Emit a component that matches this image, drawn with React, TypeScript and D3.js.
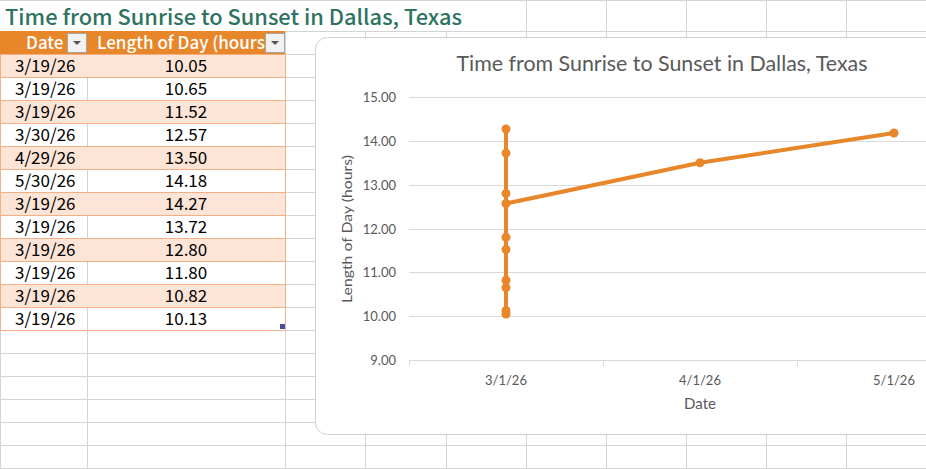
import React from 'react';
import * as d3 from 'd3';

// table data, as typed in the sheet
const dates = ['3/19/26', '3/19/26', '3/19/26', '3/30/26', '4/29/26', '5/30/26', '3/19/26', '3/19/26', '3/19/26', '3/19/26', '3/19/26', '3/19/26'];
const hours = [10.05, 10.65, 11.52, 12.57, 13.5, 14.18, 14.27, 13.72, 12.8, 11.8, 10.82, 10.13];
const monthTicks = ['3/1/26', '4/1/26', '5/1/26'];
const yTicks = [9, 10, 11, 12, 13, 14, 15];

const sheetTitle = 'Time from Sunrise to Sunset in Dallas, Texas';
const chartTitle = 'Time from Sunrise to Sunset in Dallas, Texas';

const W = 926, H = 469;
const ORANGE = '#E8862A';
const BAND = '#FCE4D6';
const GRID = '#d4d4d4';
const TXT = '#595959';

const colX = [0, 87, 285, 365, 446, 526, 606, 686, 766, 846, 926];
const rowH = 23;

const parse = d3.timeParse('%m/%d/%y');
const fmt = d3.timeFormat('%-m/%-d/%y');

const App = () => {
  const rowsY = d3.range(31, H + 1, rowH); // 31, 54, 77 ...

  // chart box
  const cx0 = 315, cy0 = 37, cy1 = 434;

  const x = d3.scaleBand().domain(monthTicks).range([409, 991]).padding(0);
  const y = d3.scaleLinear().domain([9, 15]).range([360, 97]);

  // excel date axis: points sorted by date, put in their month bucket
  const pts = d3.sort(
    dates.map((d, i) => ({ date: parse(d), v: hours[i] })),
    p => p.date
  ).map(p => ({ ...p, m: fmt(d3.timeMonth.floor(p.date)) }));

  const line = d3.line().x(p => x(p.m) + x.bandwidth() / 2).y(p => y(p.v));

  const chartFont = 'Lato, "Open Sans", sans-serif';
  const cellFont = '"Noto Sans CJK SC", "Noto Sans", sans-serif';

  return (
    <svg width={W} height={H} style={{ position: 'absolute', left: 0, top: 0, background: '#fff' }}>
      <defs>
        <clipPath id="hdr2"><rect x={87} y={31} width={178} height={23} /></clipPath>
      </defs>
      <rect width={W} height={H} fill="#fff" />

      {/* sheet gridlines */}
      <g stroke={GRID} strokeWidth={1}>
        <line x1={0} x2={W} y1={0.5} y2={0.5} />
        {rowsY.map(r => <line key={'r' + r} x1={0} x2={W} y1={r + 0.5} y2={r + 0.5} />)}
        {colX.map(c => (
          <line key={'c' + c} x1={c + 0.5} x2={c + 0.5} y1={c >= 526 ? 0 : 31} y2={H} />
        ))}
      </g>

      {/* sheet title */}
      <text x={5} y={25} fill="#2E7361" fontFamily={cellFont} fontWeight={500} fontSize={21}
        textLength={457} lengthAdjust="spacingAndGlyphs">{sheetTitle}</text>

      {/* table */}
      <rect x={0} y={31} width={285} height={23} fill={ORANGE} />
      <text x={26} y={49} fill="#fff" fontFamily={cellFont} fontWeight={500} fontSize={17}>Date</text>
      <text x={97} y={49} fill="#fff" fontFamily={cellFont} fontWeight={500} fontSize={17} clipPath="url(#hdr2)">Length of Day (hours)</text>
      {[67, 265].map(bx => (
        <g key={bx}>
          <rect x={bx + 0.5} y={33.5} width={19} height={19} fill="#f2f2f2" stroke="#a6a6a6" />
          <path d={`M${bx + 6},${41} L${bx + 14},${41} L${bx + 10},${45} Z`} fill="#555" />
        </g>
      ))}
      {hours.map((v, i) => {
        const top = 54 + i * rowH;
        return (
          <g key={i}>
            <rect x={0} y={top} width={285} height={rowH} fill={i % 2 === 0 ? BAND : '#fff'} />
            {i % 2 === 1 && <line x1={87.5} x2={87.5} y1={top} y2={top + rowH} stroke={GRID} />}
            <text x={15} y={top + 18} fontFamily={cellFont} fontSize={17} fill="#000">{dates[i]}</text>
            <text x={186} y={top + 18} fontFamily={cellFont} fontSize={17} fill="#000" textAnchor="middle">{v.toFixed(2)}</text>
          </g>
        );
      })}
      <g stroke="#F4B084" strokeWidth={1}>
        {d3.range(0, hours.length + 1).map(i => (
          <line key={i} x1={0} x2={285} y1={54 + i * rowH + 0.5} y2={54 + i * rowH + 0.5} />
        ))}
        <line x1={0.5} x2={0.5} y1={54} y2={330} />
        <line x1={285.5} x2={285.5} y1={54} y2={330} />
      </g>
      <rect x={280} y={324} width={5} height={5} fill="#3F4FA8" />

      {/* chart */}
      <rect x={cx0 + 0.5} y={cy0 + 0.5} width={700} height={cy1 - cy0} rx={12} fill="#fff" stroke="#d0d0d0" />
      <text x={662} y={71} textAnchor="middle" fill={TXT} fontFamily={chartFont} fontSize={21}
        textLength={411} lengthAdjust="spacingAndGlyphs">{chartTitle}</text>

      <g stroke="#d9d9d9" strokeWidth={1}>
        {yTicks.map(t => <line key={t} x1={409} x2={W} y1={Math.round(y(t)) + 0.5} y2={Math.round(y(t)) + 0.5} />)}
        {d3.range(0, monthTicks.length + 1).map(i => {
          const tx = Math.round(409 + i * x.bandwidth()) + 0.5;
          return <line key={i} x1={tx} x2={tx} y1={360} y2={366} />;
        })}
      </g>
      {yTicks.map(t => (
        <text key={t} x={396} y={y(t) + 5} textAnchor="end" fill={TXT} fontFamily={chartFont} fontSize={13}>{t.toFixed(2)}</text>
      ))}
      {monthTicks.map(m => (
        <text key={m} x={x(m) + x.bandwidth() / 2} y={385} textAnchor="middle" fill={TXT} fontFamily={chartFont} fontSize={13}>{m}</text>
      ))}
      <text x={700} y={409} textAnchor="middle" fill={TXT} fontFamily={chartFont} fontSize={15}>Date</text>
      <text transform="translate(352,229) rotate(-90)" textAnchor="middle" fill={TXT} fontFamily={chartFont} fontSize={14}
        textLength={148} lengthAdjust="spacingAndGlyphs">Length of Day (hours)</text>

      <path d={line(pts)} fill="none" stroke={ORANGE} strokeWidth={4} strokeLinejoin="round" />
      {pts.map((p, i) => (
        <circle key={i} cx={x(p.m) + x.bandwidth() / 2} cy={y(p.v)} r={4.5} fill={ORANGE} />
      ))}
    </svg>
  );
};

export default App;
